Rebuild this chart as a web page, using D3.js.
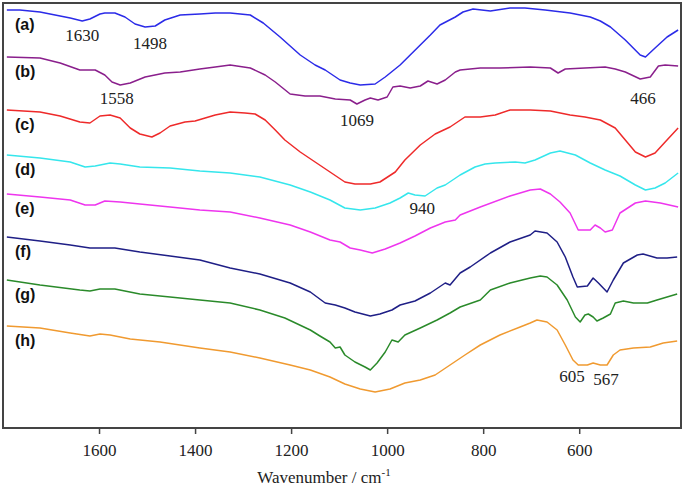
<!DOCTYPE html>
<html>
<head>
<meta charset="utf-8">
<script src="https://cdn.jsdelivr.net/npm/d3@7/dist/d3.min.js"></script>
<style>
  body { margin: 0; background: #fff; }
  svg { display: block; }
  .serif { font-family: "Liberation Serif", "Times New Roman", serif; }
  .sans { font-family: "Liberation Sans", Arial, sans-serif; }
</style>
</head>
<body>
<div id="chart"></div>
<script>
// FTIR spectra, offset transmittance (a.u.) vs wavenumber (cm-1)
const sampleNames = ["(a)", "(b)", "(c)", "(d)", "(e)", "(f)", "(g)", "(h)"];
const sampleColors = ["#2b2be8", "#8a1f8c", "#ee2a2a", "#35e6ec", "#ee35ee", "#1f1f86", "#2a8a2a", "#f09a30"];

const spectrumA = [[1792,418],[1765,418],[1723,416],[1702,414],[1660,410],[1635,407],[1619,409],[1598,414],[1588,415],[1567,415],[1546,411],[1525,404],[1504,401],[1483,402],[1463,408],[1431,413],[1390,414],[1358,415],[1327,415],[1285,413],[1258,405],[1223,391],[1181,373],[1150,363],[1129,358],[1098,348],[1077,345],[1056,343],[1025,344],[1004,351],[973,363],[952,373],[931,383],[910,393],[890,403],[858,411],[842,416],[821,419],[785,417],[744,420],[713,420],[671,418],[619,415],[577,411],[556,407],[535,401],[504,388],[473,373],[462,371],[442,380],[417,391],[394,398]];
const spectrumB = [[1792,371],[1723,370],[1681,365],[1640,358],[1608,358],[1588,353],[1573,346],[1556,343],[1535,345],[1504,351],[1463,355],[1431,356],[1390,359],[1358,361],[1327,363],[1285,360],[1254,353],[1233,346],[1202,334],[1171,332],[1140,332],[1108,329],[1077,328],[1063,324],[1046,328],[1035,330],[1019,328],[1000,331],[988,341],[973,342],[952,340],[931,342],[915,347],[896,344],[879,348],[858,356],[848,358],[806,360],[765,360],[702,361],[660,360],[644,355],[629,359],[588,360],[546,361],[525,359],[504,356],[473,349],[452,351],[435,362],[421,363],[394,362]];
const spectrumC = [[1792,318],[1723,316],[1681,312],[1640,306],[1619,305],[1598,312],[1577,313],[1556,310],[1535,300],[1515,294],[1490,291],[1473,295],[1452,302],[1421,306],[1400,307],[1358,313],[1327,316],[1296,315],[1275,314],[1254,308],[1233,298],[1213,288],[1181,276],[1150,266],[1119,256],[1088,246],[1067,244],[1035,244],[1015,246],[983,256],[963,268],[931,283],[900,294],[869,301],[838,311],[806,311],[775,313],[744,318],[702,318],[660,317],[619,313],[588,311],[556,308],[525,300],[504,288],[483,276],[462,271],[442,275],[421,286],[394,300]];
const spectrumD = [[1792,273],[1723,270],[1660,266],[1629,261],[1608,262],[1577,265],[1556,264],[1515,261],[1452,260],[1390,257],[1327,255],[1265,251],[1202,243],[1160,236],[1119,228],[1088,220],[1056,218],[1025,220],[994,225],[973,230],[956,235],[942,233],[921,232],[896,240],[879,243],[848,253],[817,261],[796,264],[775,265],[733,266],[713,265],[692,268],[660,275],[640,277],[608,273],[577,265],[546,258],[515,252],[483,243],[462,238],[442,240],[421,245],[394,255]];
const spectrumE = [[1792,234],[1723,231],[1660,228],[1629,223],[1608,223],[1588,227],[1556,226],[1515,224],[1452,221],[1390,218],[1327,216],[1265,210],[1202,203],[1160,196],[1119,188],[1098,186],[1077,180],[1056,178],[1031,175],[1004,179],[973,185],[942,192],[910,200],[879,206],[858,208],[848,213],[806,221],[744,232],[702,238],[681,239],[660,234],[640,226],[619,215],[602,198],[577,198],[567,203],[556,200],[546,196],[531,198],[515,215],[483,225],[462,227],[431,225],[394,221]];
const spectrumF = [[1792,191],[1723,187],[1660,183],[1619,180],[1567,180],[1515,176],[1452,172],[1390,168],[1327,160],[1265,154],[1202,145],[1160,136],[1129,125],[1108,123],[1088,120],[1067,116],[1035,112],[1015,114],[990,118],[973,123],[942,127],[910,135],[879,145],[869,143],[848,155],[827,161],[785,175],[744,186],[702,193],[692,197],[667,195],[646,186],[629,171],[613,151],[604,141],[583,142],[571,150],[560,145],[542,136],[529,148],[508,165],[479,173],[467,174],[438,170],[417,170],[396,171]];
const spectrumG = [[1792,148],[1723,143],[1640,138],[1619,137],[1598,139],[1567,139],[1515,134],[1452,131],[1390,128],[1327,125],[1265,118],[1213,110],[1160,98],[1140,92],[1119,86],[1108,80],[1098,81],[1088,73],[1067,66],[1046,61],[1035,58],[1021,65],[1004,76],[990,88],[977,86],[963,93],[931,100],[896,108],[869,115],[848,121],[806,128],[785,138],[744,145],[702,150],[681,152],[667,151],[646,143],[625,128],[608,111],[598,106],[588,113],[581,114],[571,111],[563,107],[550,110],[535,114],[525,125],[508,127],[487,125],[458,125],[438,128],[396,134]];
const spectrumH = [[1792,102],[1723,100],[1660,95],[1619,92],[1598,94],[1577,93],[1535,89],[1473,86],[1390,80],[1327,76],[1265,70],[1202,63],[1160,58],[1119,51],[1088,44],[1056,39],[1025,36],[994,39],[963,45],[931,48],[900,53],[869,63],[838,73],[806,83],[765,93],[723,101],[702,105],[688,108],[667,106],[646,98],[629,83],[613,68],[602,63],[583,63],[571,65],[556,63],[542,63],[529,73],[515,78],[487,80],[452,81],[425,85],[396,87]];

const spectra = [spectrumA, spectrumB, spectrumC, spectrumD, spectrumE, spectrumF, spectrumG, spectrumH];

const tickValues = [1600, 1400, 1200, 1000, 800, 600];

// band assignments written on the figure: [label, wavenumber, value]
const peakLabels = [["1630",1635,387],["1498",1494,379],["1558",1563,324],["1069",1063,302],["466",467,324],["940",927,214],["605",615,46],["567",544,43]];

const width = 685, height = 489;
const plotLeft = 3, plotRight = 681, plotTop = 3, plotBottom = 428;

const svg = d3.select("#chart").append("svg")
    .attr("width", width)
    .attr("height", height);

const x = d3.scaleLinear().domain([1800, 388]).range([plotLeft, plotRight]);
const y = d3.scaleLinear().domain([0, 425]).range([plotBottom, plotTop]);

const line = d3.line()
    .x(d => x(d[0]))
    .y(d => y(d[1]));

// curves
svg.selectAll("path.spectrum")
    .data(spectra)
    .join("path")
    .attr("class", "spectrum")
    .attr("d", line)
    .attr("fill", "none")
    .attr("stroke", (d, i) => sampleColors[i])
    .attr("stroke-width", 1.5)
    .attr("stroke-linejoin", "round");

// sample letters, just under the start of each curve
svg.selectAll("text.sample")
    .data(spectra)
    .join("text")
    .attr("class", "sample sans")
    .attr("x", 15)
    .attr("y", d => y(d[0][1]) + 14)
    .attr("dy", "0.35em")
    .style("font-weight", "bold")
    .style("font-size", "16px")
    .attr("fill", "#111")
    .text((d, i) => sampleNames[i]);

// band labels
svg.selectAll("text.peak")
    .data(peakLabels)
    .join("text")
    .attr("class", "peak serif")
    .attr("x", d => x(d[1]))
    .attr("y", d => y(d[2]))
    .attr("text-anchor", "middle")
    .style("font-size", "17px")
    .attr("fill", "#222")
    .text(d => d[0]);

// frame
svg.append("rect")
    .attr("x", plotLeft)
    .attr("y", plotTop)
    .attr("width", plotRight - plotLeft)
    .attr("height", plotBottom - plotTop)
    .attr("fill", "none")
    .attr("stroke", "#444")
    .attr("stroke-width", 2);

// bottom axis
const xAxis = d3.axisBottom(x)
    .tickValues(tickValues)
    .tickFormat(d3.format("d"))
    .tickSize(6)
    .tickSizeOuter(0)
    .tickPadding(10);

const axisG = svg.append("g")
    .attr("transform", `translate(0,${plotBottom})`)
    .call(xAxis);

axisG.select(".domain").remove();
axisG.selectAll(".tick line").attr("stroke", "#444").attr("stroke-width", 1.5);
axisG.selectAll(".tick text")
    .attr("class", "serif")
    .style("font-size", "17px")
    .attr("fill", "#222");

// axis title
const title = svg.append("text")
    .attr("class", "serif")
    .attr("x", 324)
    .attr("y", 483)
    .attr("text-anchor", "middle")
    .style("font-size", "17px")
    .attr("fill", "#222");
title.append("tspan").text("Wavenumber / cm");
title.append("tspan").style("font-size", "11px").attr("dy", "-7").text("-1");
</script>
</body>
</html>
